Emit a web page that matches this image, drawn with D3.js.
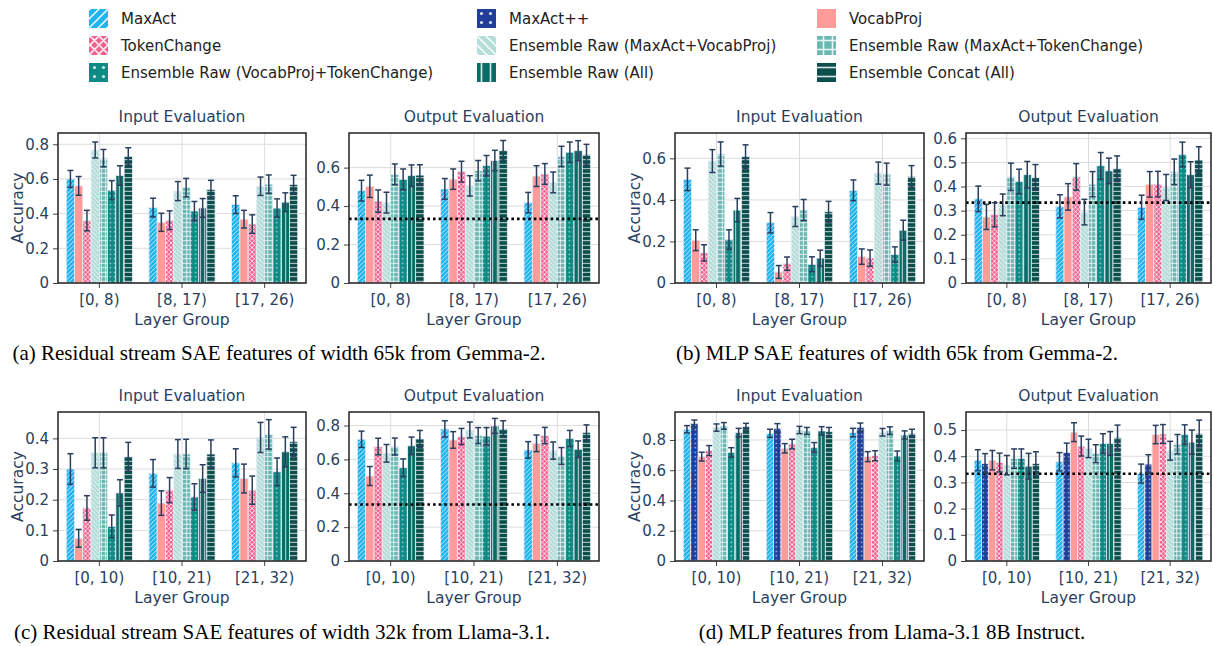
<!DOCTYPE html>
<html>
<head>
<meta charset="utf-8">
<script src="https://cdn.jsdelivr.net/npm/d3@7"></script>
<style>
  body { margin: 0; background: #fff; }
  svg { display: block; }
  .tick text { font-family: "DejaVu Sans", sans-serif; }
</style>
</head>
<body>
<div class="chart"></div>
<script>
// methods, in legend / bar order
const methods = ["MaxAct", "MaxAct++", "VocabProj", "TokenChange",
  "Ensemble Raw (MaxAct+VocabProj)", "Ensemble Raw (MaxAct+TokenChange)",
  "Ensemble Raw (VocabProj+TokenChange)", "Ensemble Raw (All)", "Ensemble Concat (All)"];
const methodColors = ["#1fb3ef", "#1f3f99", "#ff9b98", "#f2608e",
  "#b4dcd9", "#6bb7b2", "#0f8a84", "#0d6b66", "#0b4f4c"];
const methodPatterns = ["/", ".", "", "x", "\\", "+", ".", "|", "-"];

const gemmaGroups = ["[0, 8)", "[8, 17)", "[17, 26)"];
const llamaGroups = ["[0, 10)", "[10, 21)", "[21, 32)"];

// bars without MaxAct++ use these method indices
const sharedMethods = [0, 2, 3, 4, 5, 6, 7, 8];
const allMethods = [0, 1, 2, 3, 4, 5, 6, 7, 8];

// (a) residual stream, Gemma-2
const gemmaResInput = [
  [0.60, 0.56, 0.36, 0.767, 0.72, 0.535, 0.62, 0.73],
  [0.435, 0.35, 0.362, 0.53, 0.55, 0.415, 0.433, 0.54],
  [0.452, 0.368, 0.34, 0.558, 0.57, 0.432, 0.466, 0.568]];
const gemmaResInputErr = [
  [0.049, 0.054, 0.059, 0.046, 0.05, 0.055, 0.056, 0.05],
  [0.054, 0.052, 0.054, 0.055, 0.053, 0.055, 0.054, 0.052],
  [0.051, 0.051, 0.053, 0.053, 0.053, 0.053, 0.054, 0.053]];
const gemmaResOutput = [
  [0.48, 0.503, 0.426, 0.418, 0.565, 0.539, 0.558, 0.561],
  [0.489, 0.54, 0.579, 0.505, 0.584, 0.61, 0.637, 0.69],
  [0.418, 0.556, 0.567, 0.523, 0.658, 0.68, 0.688, 0.667]];
const gemmaResOutputErr = [
  [0.054, 0.058, 0.058, 0.054, 0.054, 0.054, 0.056, 0.054],
  [0.054, 0.053, 0.054, 0.053, 0.053, 0.053, 0.053, 0.051],
  [0.053, 0.054, 0.054, 0.054, 0.053, 0.053, 0.052, 0.054]];

// (b) MLP, Gemma-2
const gemmaMlpInput = [
  [0.499, 0.206, 0.145, 0.587, 0.621, 0.209, 0.351, 0.608],
  [0.29, 0.053, 0.093, 0.32, 0.351, 0.09, 0.12, 0.343],
  [0.446, 0.127, 0.12, 0.529, 0.524, 0.137, 0.254, 0.513]];
const gemmaMlpInputErr = [
  [0.054, 0.05, 0.039, 0.055, 0.058, 0.047, 0.056, 0.057],
  [0.049, 0.031, 0.032, 0.048, 0.051, 0.036, 0.038, 0.05],
  [0.05, 0.037, 0.039, 0.053, 0.053, 0.037, 0.048, 0.052]];
const gemmaMlpOutput = [
  [0.349, 0.274, 0.283, 0.324, 0.44, 0.421, 0.449, 0.438],
  [0.318, 0.357, 0.44, 0.294, 0.41, 0.486, 0.465, 0.474],
  [0.314, 0.409, 0.41, 0.396, 0.461, 0.533, 0.449, 0.51]];
const gemmaMlpOutputErr = [
  [0.053, 0.052, 0.05, 0.045, 0.057, 0.051, 0.055, 0.053],
  [0.048, 0.055, 0.055, 0.053, 0.052, 0.055, 0.053, 0.053],
  [0.05, 0.053, 0.053, 0.054, 0.053, 0.051, 0.054, 0.055]];

// (c) residual stream, Llama-3.1
const llamaResInput = [
  [0.30, 0.074, 0.173, 0.353, 0.353, 0.113, 0.222, 0.34],
  [0.286, 0.189, 0.231, 0.349, 0.349, 0.209, 0.269, 0.349],
  [0.32, 0.269, 0.231, 0.403, 0.413, 0.291, 0.356, 0.389]];
const llamaResInputErr = [
  [0.05, 0.029, 0.04, 0.049, 0.049, 0.037, 0.043, 0.047],
  [0.045, 0.04, 0.041, 0.047, 0.048, 0.043, 0.045, 0.046],
  [0.046, 0.047, 0.046, 0.049, 0.048, 0.045, 0.049, 0.047]];
const llamaResOutput = [
  [0.719, 0.502, 0.676, 0.636, 0.676, 0.551, 0.68, 0.721],
  [0.78, 0.715, 0.735, 0.774, 0.741, 0.737, 0.798, 0.78],
  [0.656, 0.695, 0.741, 0.652, 0.62, 0.723, 0.66, 0.76]];
const llamaResOutputErr = [
  [0.048, 0.056, 0.049, 0.052, 0.05, 0.052, 0.052, 0.05],
  [0.048, 0.049, 0.048, 0.047, 0.047, 0.051, 0.044, 0.048],
  [0.049, 0.049, 0.048, 0.051, 0.05, 0.048, 0.049, 0.044]];

// (d) MLP, Llama-3.1 8B Instruct
const llamaMlpInput = [
  [0.871, 0.91, 0.69, 0.73, 0.882, 0.893, 0.718, 0.849, 0.888],
  [0.844, 0.877, 0.745, 0.773, 0.866, 0.86, 0.751, 0.86, 0.855],
  [0.849, 0.884, 0.69, 0.696, 0.851, 0.862, 0.694, 0.833, 0.844]];
const llamaMlpInputErr = [
  [0.024, 0.022, 0.029, 0.033, 0.024, 0.022, 0.031, 0.028, 0.022],
  [0.027, 0.031, 0.031, 0.032, 0.024, 0.023, 0.032, 0.028, 0.028],
  [0.028, 0.028, 0.033, 0.033, 0.025, 0.025, 0.033, 0.027, 0.027]];
const llamaMlpOutput = [
  [0.385, 0.372, 0.385, 0.376, 0.366, 0.391, 0.391, 0.362, 0.372],
  [0.379, 0.414, 0.492, 0.439, 0.43, 0.41, 0.449, 0.449, 0.472],
  [0.334, 0.37, 0.483, 0.485, 0.421, 0.446, 0.483, 0.454, 0.487]];
const llamaMlpOutputErr = [
  [0.04, 0.038, 0.037, 0.036, 0.037, 0.037, 0.037, 0.049, 0.045],
  [0.035, 0.036, 0.036, 0.038, 0.035, 0.034, 0.037, 0.045, 0.047],
  [0.036, 0.036, 0.035, 0.036, 0.036, 0.037, 0.037, 0.046, 0.051]];

const yTicksA1 = [0, 0.2, 0.4, 0.6, 0.8];
const yTicksA2 = [0, 0.2, 0.4, 0.6];
const yTicksB2 = [0, 0.1, 0.2, 0.3, 0.4, 0.5, 0.6];
const yTicksC1 = [0, 0.1, 0.2, 0.3, 0.4];
const yTicksD2 = [0, 0.1, 0.2, 0.3, 0.4, 0.5];
const chanceLevel = 1 / 3;

const captions = [
  "(a) Residual stream SAE features of width 65k from Gemma-2.",
  "(b) MLP SAE features of width 65k from Gemma-2.",
  "(c) Residual stream SAE features of width 32k from Llama-3.1.",
  "(d) MLP features from Llama-3.1 8B Instruct."];

// layout
const W = 1213, H = 646;
const colX = [[58, 306], [349, 599], [675, 924], [966, 1211]];
const rowY = [[133, 283], [412, 561]];
const textColor = "#2a3f5f";
const font = "DejaVu Sans, sans-serif";

const panels = [
  {col: 0, row: 0, title: "Input Evaluation", groups: gemmaGroups, vals: gemmaResInput, errs: gemmaResInputErr, m: sharedMethods, ymax: 0.865, ticks: yTicksA1, ylabel: true},
  {col: 1, row: 0, title: "Output Evaluation", groups: gemmaGroups, vals: gemmaResOutput, errs: gemmaResOutputErr, m: sharedMethods, ymax: 0.78, ticks: yTicksA2, chance: true},
  {col: 2, row: 0, title: "Input Evaluation", groups: gemmaGroups, vals: gemmaMlpInput, errs: gemmaMlpInputErr, m: sharedMethods, ymax: 0.722, ticks: yTicksA2, ylabel: true},
  {col: 3, row: 0, title: "Output Evaluation", groups: gemmaGroups, vals: gemmaMlpOutput, errs: gemmaMlpOutputErr, m: sharedMethods, ymax: 0.622, ticks: yTicksB2, chance: true},
  {col: 0, row: 1, title: "Input Evaluation", groups: llamaGroups, vals: llamaResInput, errs: llamaResInputErr, m: sharedMethods, ymax: 0.486, ticks: yTicksC1, ylabel: true},
  {col: 1, row: 1, title: "Output Evaluation", groups: llamaGroups, vals: llamaResOutput, errs: llamaResOutputErr, m: sharedMethods, ymax: 0.88, ticks: yTicksA1, chance: true},
  {col: 2, row: 1, title: "Input Evaluation", groups: llamaGroups, vals: llamaMlpInput, errs: llamaMlpInputErr, m: allMethods, ymax: 0.985, ticks: yTicksA1, ylabel: true},
  {col: 3, row: 1, title: "Output Evaluation", groups: llamaGroups, vals: llamaMlpOutput, errs: llamaMlpOutputErr, m: allMethods, ymax: 0.569, ticks: yTicksD2, chance: true}
];

const svg = d3.select(".chart").append("svg")
    .attr("width", W)
    .attr("height", H);
const defs = svg.append("defs");

// plotly-like fill patterns
function addPattern(id, color, shape, s, sw) {
  const p = defs.append("pattern")
      .attr("id", id)
      .attr("patternUnits", "userSpaceOnUse")
      .attr("width", s).attr("height", s);
  p.append("rect").attr("width", s).attr("height", s).attr("fill", color);
  const fg = "rgba(255,255,255,0.85)";
  const h = s / 2;
  let d = "";
  const slash = `M0,${s}L${s},0M${-h},${h}L${h},${-h}M${h},${s + h}L${s + h},${h}`;
  const back = `M0,0L${s},${s}M${-h},${h}L${h},${s + h}M${h},${-h}L${s + h},${h}`;
  if (shape === "/") d = slash;
  if (shape === "\\") d = back;
  if (shape === "x") d = slash + back;
  if (shape === "+") d = `M0,${h}L${s},${h}M${h},0L${h},${s}`;
  if (shape === "|") d = `M${h},0L${h},${s}`;
  if (shape === "-") d = `M0,${h}L${s},${h}`;
  if (shape === ".") {
    p.append("circle").attr("cx", h).attr("cy", h).attr("r", s * 0.17).attr("fill", fg);
  } else if (d) {
    p.append("path").attr("d", d).attr("stroke", fg).attr("stroke-width", sw).attr("fill", "none");
  }
}
methods.forEach((m, i) => {
  addPattern("bar-pat-" + i, methodColors[i], methodPatterns[i], 4.5, 0.9);
  addPattern("leg-pat-" + i, methodColors[i], methodPatterns[i], 9, 1.6);
});

// legend
const legX = [89, 477, 817];
const legY = [9, 36, 63];
const legend = svg.append("g");
methods.forEach((m, i) => {
  const x = legX[i % 3], y = legY[Math.floor(i / 3)];
  legend.append("rect")
      .attr("x", x).attr("y", y)
      .attr("width", 19).attr("height", 19)
      .attr("fill", `url(#leg-pat-${i})`);
  legend.append("text")
      .attr("x", x + 32).attr("y", y + 9.5)
      .attr("dominant-baseline", "central")
      .attr("font-family", font).attr("font-size", 15)
      .attr("fill", "#222")
      .text(m);
});

const fmt = d => d === 0 ? "0" : d3.format(".1f")(d);

panels.forEach(p => {
  const [x0, x1] = colX[p.col];
  const [y0, y1] = rowY[p.row];
  const g = svg.append("g");

  const xScale = d3.scaleBand()
      .domain(p.groups)
      .range([x0, x1])
      .paddingInner(0.2)
      .paddingOuter(0.1);
  const mScale = d3.scaleBand()
      .domain(p.m)
      .range([0, xScale.bandwidth()]);
  const yScale = d3.scaleLinear()
      .domain([0, p.ymax])
      .range([y1, y0]);

  // grid
  g.append("g").selectAll("line.hg")
      .data(p.ticks)
      .join("line")
      .attr("x1", x0).attr("x2", x1)
      .attr("y1", d => yScale(d)).attr("y2", d => yScale(d))
      .attr("stroke", "#dcdcdc").attr("stroke-width", 1);
  g.append("g").selectAll("line.vg")
      .data(p.groups)
      .join("line")
      .attr("x1", d => xScale(d) + xScale.bandwidth() / 2)
      .attr("x2", d => xScale(d) + xScale.bandwidth() / 2)
      .attr("y1", y0).attr("y2", y1)
      .attr("stroke", "#dcdcdc").attr("stroke-width", 1);

  // bars
  const rows = [];
  p.groups.forEach((grp, gi) => {
    p.m.forEach((mi, k) => {
      rows.push({grp, mi, v: p.vals[gi][k], e: p.errs[gi][k]});
    });
  });
  g.append("g").selectAll("rect")
      .data(rows)
      .join("rect")
      .attr("x", d => xScale(d.grp) + mScale(d.mi))
      .attr("y", d => yScale(d.v))
      .attr("width", mScale.bandwidth())
      .attr("height", d => y1 - yScale(d.v))
      .attr("fill", d => `url(#bar-pat-${d.mi})`)
      .attr("stroke", "#e5ecf6")
      .attr("stroke-width", 0.8);

  // chance line
  if (p.chance) {
    g.append("line")
        .attr("x1", x0).attr("x2", x1)
        .attr("y1", yScale(chanceLevel)).attr("y2", yScale(chanceLevel))
        .attr("stroke", "#000").attr("stroke-width", 2.6)
        .attr("stroke-dasharray", "2.6,3");
  }

  // error bars
  const eb = g.append("g").attr("stroke", textColor).attr("stroke-width", 1.5);
  rows.forEach(d => {
    const cx = xScale(d.grp) + mScale(d.mi) + mScale.bandwidth() / 2;
    const ya = yScale(d.v - d.e), yb = yScale(d.v + d.e);
    eb.append("line").attr("x1", cx).attr("x2", cx).attr("y1", ya).attr("y2", yb);
    eb.append("line").attr("x1", cx - 3).attr("x2", cx + 3).attr("y1", ya).attr("y2", ya);
    eb.append("line").attr("x1", cx - 3).attr("x2", cx + 3).attr("y1", yb).attr("y2", yb);
  });

  // axes
  const yAxis = d3.axisLeft(yScale).tickValues(p.ticks).tickFormat(fmt).tickSize(5).tickPadding(4);
  const xAxis = d3.axisBottom(xScale).tickSize(5).tickPadding(6);
  const ya = g.append("g").attr("transform", `translate(${x0},0)`).call(yAxis);
  const xa = g.append("g").attr("transform", `translate(0,${y1})`).call(xAxis);
  [ya, xa].forEach(a => {
    a.select(".domain").remove();
    a.selectAll(".tick line").attr("stroke", "#444");
    a.selectAll(".tick text").attr("font-size", 15).attr("fill", textColor);
  });

  // frame
  g.append("rect")
      .attr("x", x0).attr("y", y0)
      .attr("width", x1 - x0).attr("height", y1 - y0)
      .attr("fill", "none").attr("stroke", "#222").attr("stroke-width", 1.5);

  // titles
  g.append("text")
      .attr("x", (x0 + x1) / 2).attr("y", y0 - 16)
      .attr("text-anchor", "middle").attr("dominant-baseline", "central")
      .attr("font-family", font).attr("font-size", 15.5).attr("fill", textColor)
      .text(p.title);
  g.append("text")
      .attr("x", (x0 + x1) / 2).attr("y", y1 + 37)
      .attr("text-anchor", "middle").attr("dominant-baseline", "central")
      .attr("font-family", font).attr("font-size", 15.5).attr("fill", textColor)
      .text("Layer Group");
  if (p.ylabel) {
    const lx = p.col === 0 ? 18 : 635;
    g.append("text")
        .attr("transform", `translate(${lx},${(y0 + y1) / 2}) rotate(-90)`)
        .attr("text-anchor", "middle").attr("dominant-baseline", "central")
        .attr("font-family", font).attr("font-size", 15.5).attr("fill", textColor)
        .text("Accuracy");
  }
});

// captions
const capPos = [[279, 353], [897, 353], [282, 632], [892, 632]];
captions.forEach((c, i) => {
  svg.append("text")
      .attr("x", capPos[i][0]).attr("y", capPos[i][1])
      .attr("text-anchor", "middle").attr("dominant-baseline", "central")
      .attr("font-family", "Liberation Serif, Times New Roman, serif")
      .attr("font-size", 21).attr("fill", "#000")
      .text(c);
});
</script>
</body>
</html>
